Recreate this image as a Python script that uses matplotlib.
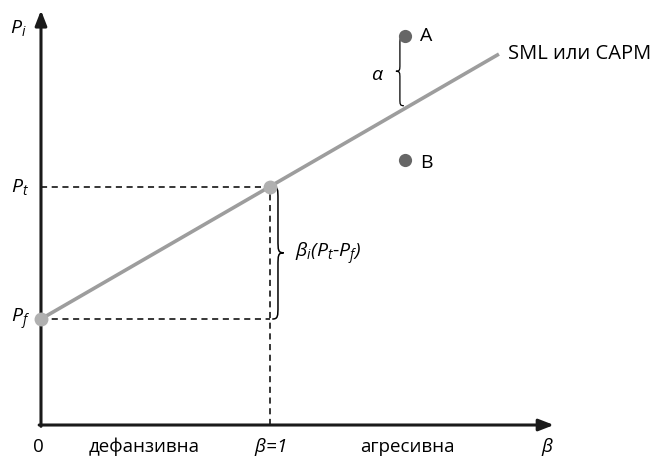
import matplotlib
matplotlib.use("Agg")
import matplotlib.pyplot as plt
from matplotlib.path import Path
from matplotlib.patches import PathPatch

plt.rcParams['font.family'] = ['Open Sans', 'DejaVu Sans']
plt.rcParams['mathtext.fontset'] = 'custom'
plt.rcParams['mathtext.it'] = 'Open Sans:italic'
plt.rcParams['mathtext.rm'] = 'Open Sans:italic'

# data (beta, expected return)
beta_f, beta_m = 0.0, 1.0
p_f, p_t = 4.0, 9.0
beta_end = 2.0
beta_ab = 1.59
p_a, p_b = 14.7, 10.0
bottom_labels = ["0", "дефанзивна", r"$\beta$=1", "агресивна", r"$\beta$"]
bottom_pos = [-0.01, 0.45, 1.0, 1.60, 2.21]
bottom_italic = [False, False, True, False, True]

def sml(b):
    return p_f + (p_t - p_f) * b

fig = plt.figure(figsize=(6.59, 4.58), dpi=100)
ax = fig.add_axes([0, 0, 1, 1])
ax.set_xlim(-0.179, 2.699)
ax.set_ylim(-1.245, 16.04)
ax.axis('off')

# axes with arrows
ax.annotate("", xy=(0, 15.65), xytext=(0, -0.05),
            arrowprops=dict(arrowstyle="-|>,head_length=0.9,head_width=0.35", color="#1a1a1a", lw=2.2, shrinkA=0, shrinkB=0))
ax.annotate("", xy=(2.24, 0), xytext=(-0.008, 0),
            arrowprops=dict(arrowstyle="-|>,head_length=0.9,head_width=0.35", color="#1a1a1a", lw=2.2, shrinkA=0, shrinkB=0))

# dashed guides
ax.plot([0, beta_m], [p_t, p_t], ls=(0, (4, 3)), color="black", lw=1.1)
ax.plot([0, beta_m], [p_f, p_f], ls=(0, (4, 3)), color="black", lw=1.1)
ax.plot([beta_m, beta_m], [0, p_t], ls=(0, (4, 3)), color="black", lw=1.1)

# SML line
ax.plot([beta_f, beta_end], [sml(beta_f), sml(beta_end)], color="#9d9d9d", lw=2.6, solid_capstyle='butt')
ax.plot([beta_f, beta_m], [p_f, p_t], 'o', color="#b0b0b0", ms=10, mec="none", zorder=5)
ax.plot([beta_ab, beta_ab], [p_a, p_b], 'o', color="#666666", ms=9.5, mec="none", zorder=5)


def brace(x, y0, y1, w, lw=1.1):
    h = y1 - y0
    m = w * 0.5
    verts = [(x, y0),
             (x + m, y0), (x + m, y0 + 0.02 * h), (x + m, y0 + 0.1 * h),
             (x + m, y0 + 0.4 * h),
             (x + m, y0 + 0.48 * h), (x + m, y0 + 0.5 * h), (x + w, y0 + 0.5 * h),
             (x + m, y0 + 0.5 * h), (x + m, y0 + 0.52 * h), (x + m, y0 + 0.6 * h),
             (x + m, y0 + 0.9 * h),
             (x + m, y0 + 0.98 * h), (x + m, y1), (x, y1)]
    codes = [Path.MOVETO,
             Path.CURVE4, Path.CURVE4, Path.CURVE4,
             Path.LINETO,
             Path.CURVE4, Path.CURVE4, Path.CURVE4,
             Path.CURVE4, Path.CURVE4, Path.CURVE4,
             Path.LINETO,
             Path.CURVE4, Path.CURVE4, Path.CURVE4]
    ax.add_patch(PathPatch(Path(verts, codes), fill=False, lw=lw, color="black"))


brace(beta_m + 0.01, p_f, p_t, 0.05)
brace(beta_ab - 0.005, sml(beta_ab) + 0.1, p_a - 0.05, -0.035, lw=0.9)

# labels
fs = 14
ax.text(-0.1, 15.0, r"$P_i$", fontsize=fs, ha="center", va="center")
ax.text(-0.09, p_t, r"$P_t$", fontsize=fs, ha="center", va="center")
ax.text(-0.09, p_f, r"$P_f$", fontsize=fs, ha="center", va="center")
ax.text(1.47, 13.2, r"$\alpha$", fontsize=fs, ha="center", va="center")
ax.text(1.11, 6.45, r"$\beta_i(P_t$-$P_f)$", fontsize=fs, ha="left", va="center")
ax.text(beta_ab + 0.065, p_a, "A", fontsize=fs, ha="left", va="center")
ax.text(beta_ab + 0.065, p_b - 0.1, "B", fontsize=fs, ha="left", va="center")
ax.text(2.04, 14.0, "SML или CAPM", fontsize=fs + 0.5, ha="left", va="center")
for lab, xp, it in zip(bottom_labels, bottom_pos, bottom_italic):
    ax.text(xp, -1.0, lab, fontsize=13.5, ha="center", va="baseline",
            style="italic" if it else "normal")

fig.savefig("out.png", dpi=100)
